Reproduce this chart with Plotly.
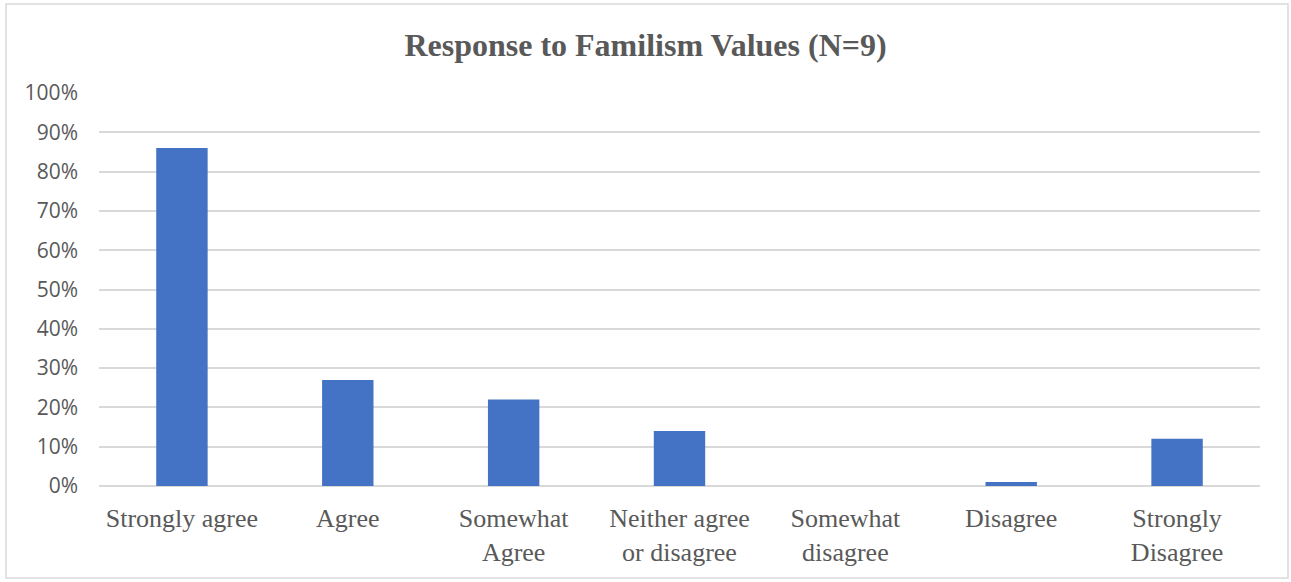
import plotly.graph_objects as go

categories = ["Strongly agree", "Agree", "Somewhat<br>Agree", "Neither agree<br>or disagree",
              "Somewhat<br>disagree", "Disagree", "Strongly<br>Disagree"]
values = [86, 27, 22, 14, 0, 1, 12]
tick_vals = [0, 10, 20, 30, 40, 50, 60, 70, 80, 90, 100]
tick_text = [f"{v}%" for v in tick_vals]

W, H = 1291, 582
L, R, T, B = 99, 31, 93, 96
pw, ph = W - L - R, H - T - B

fig = go.Figure(go.Bar(x=categories, y=values, marker=dict(color="#4472C4", line=dict(width=0)),
                       width=0.31))

fig.update_layout(
    width=W, height=H,
    margin=dict(l=L, r=R, t=T, b=B),
    paper_bgcolor="white", plot_bgcolor="white",
    title=dict(text="<b>Response to Familism Values (N=9)</b>", x=0.5, xanchor="center",
               y=1 - 45 / H, yanchor="middle",
               font=dict(family="Liberation Serif", size=32, color="#595959")),
    showlegend=False,
    xaxis=dict(showgrid=False, showline=False, ticks="", ticklabelstandoff=14,
               tickfont=dict(family="Liberation Serif", size=26, color="#595959")),
    yaxis=dict(range=[0, 100], tickvals=tick_vals, ticktext=tick_text,
               showgrid=True, gridcolor="#D9D9D9", gridwidth=1.5, zeroline=True,
               zerolinecolor="#D9D9D9", zerolinewidth=1.5, ticks="", ticklabelstandoff=20,
               tickfont=dict(family="Open Sans", size=21, color="#595959")),
    shapes=[dict(type="rect", xref="paper", yref="paper",
                 x0=(6 - L) / pw, x1=(1288 - L) / pw,
                 y0=(H - B - 578) / ph, y1=(H - B - 4) / ph,
                 line=dict(color="#D9D9D9", width=1.5), fillcolor="rgba(0,0,0,0)", layer="below")],
)

fig.write_html("out.html")
